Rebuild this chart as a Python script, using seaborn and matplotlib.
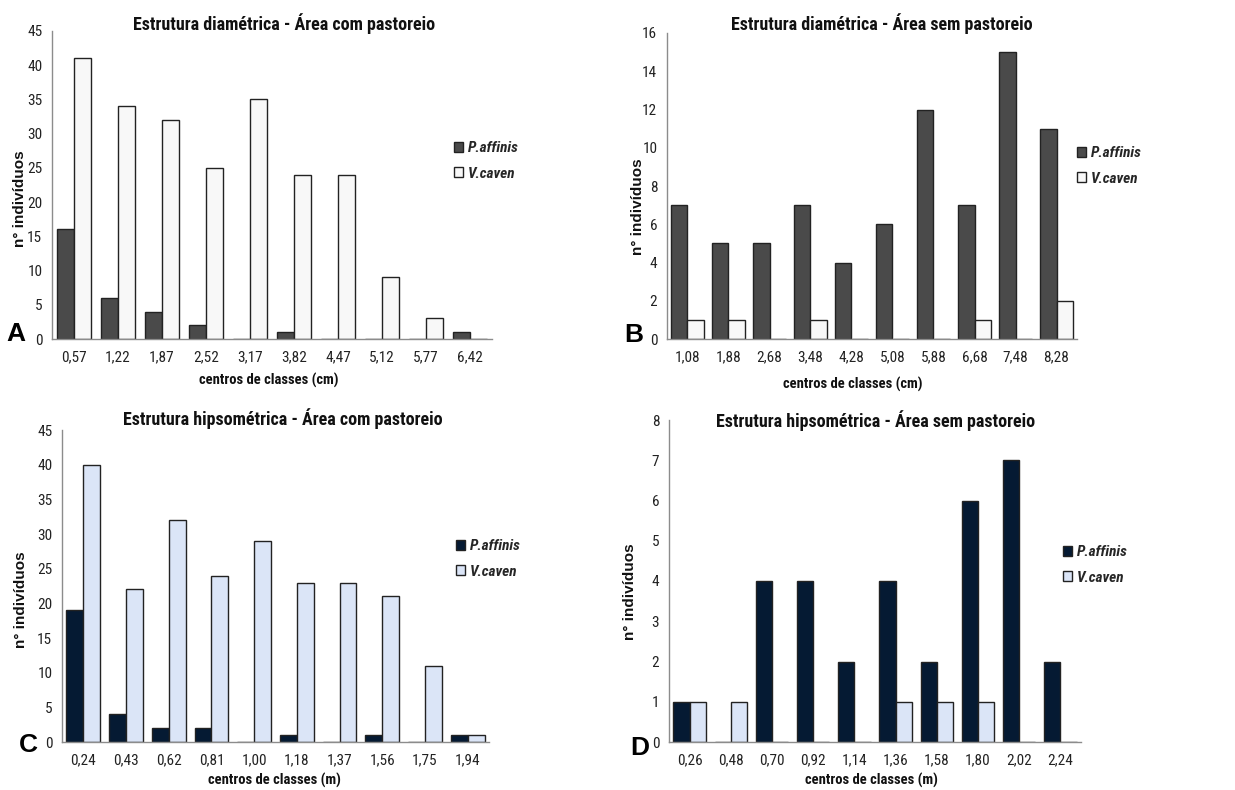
import matplotlib
matplotlib.use("Agg")
import matplotlib.pyplot as plt
from matplotlib import font_manager
from matplotlib.patches import Patch
import seaborn as sns
import pandas as pd

# ---------------- data ----------------
species = ["P.affinis", "V.caven"]

classes_a = ["0,57", "1,22", "1,87", "2,52", "3,17", "3,82", "4,47", "5,12", "5,77", "6,42"]
paff_a = [16, 6, 4, 2, 0, 1, 0, 0, 0, 1]
vcav_a = [41, 34, 32, 25, 35, 24, 24, 9, 3, 0]

classes_b = ["1,08", "1,88", "2,68", "3,48", "4,28", "5,08", "5,88", "6,68", "7,48", "8,28"]
paff_b = [7, 5, 5, 7, 4, 6, 12, 7, 15, 11]
vcav_b = [1, 1, 0, 1, 0, 0, 0, 1, 0, 2]

classes_c = ["0,24", "0,43", "0,62", "0,81", "1,00", "1,18", "1,37", "1,56", "1,75", "1,94"]
paff_c = [19, 4, 2, 2, 0, 1, 0, 1, 0, 1]
vcav_c = [40, 22, 32, 24, 29, 23, 23, 21, 11, 1]

classes_d = ["0,26", "0,48", "0,70", "0,92", "1,14", "1,36", "1,58", "1,80", "2,02", "2,24"]
paff_d = [1, 0, 4, 4, 2, 4, 2, 6, 7, 2]
vcav_d = [1, 1, 0, 0, 0, 1, 1, 1, 0, 0]

titles = ["Estrutura diamétrica - Área com pastoreio",
          "Estrutura diamétrica - Área sem pastoreio",
          "Estrutura hipsométrica - Área com pastoreio",
          "Estrutura hipsométrica - Área sem pastoreio"]
xlabels = ["centros de classes (cm)", "centros de classes (cm)",
           "centros de classes (m)", "centros de classes (m)"]
ylabel = "n° indivíduos"
letters = ["A", "B", "C", "D"]
ymax = [45, 16, 45, 8]
ystep = [5, 2, 5, 1]

# ---------------- style ----------------
sns.set_style("white")

# look for a narrow / condensed sans face (like Arial Narrow in the original)
cond_stretch = ("condensed", "extra-condensed", "ultra-condensed", "semi-condensed")
narrow_name, narrow_stretch = None, "normal"
entries = font_manager.fontManager.ttflist
pref = ["Liberation Sans Narrow", "Arial Narrow", "Roboto Condensed", "Noto Sans",
        "Open Sans Condensed", "Open Sans", "Noto Sans Condensed", "DejaVu Sans"]
found = []
for f in entries:
    st = str(f.stretch)
    if st in cond_stretch or "Narrow" in f.name or "Condensed" in f.name:
        found.append((f.name, st))
for p in pref:
    hits = [h for h in found if h[0] == p]
    if hits:
        hits.sort(key=lambda h: 0 if h[1] == "condensed" else 1)
        narrow_name, narrow_stretch = hits[0]
        break
if narrow_name is None and found:
    narrow_name, narrow_stretch = found[0]

if narrow_name is not None:
    plt.rcParams["font.family"] = [narrow_name, "DejaVu Sans"]
    if narrow_stretch in cond_stretch:
        plt.rcParams["font.stretch"] = narrow_stretch
    fs_title, fs_tick, fs_xl, fs_leg = 13, 11, 10.5, 11
else:
    plt.rcParams["font.family"] = ["Liberation Sans", "DejaVu Sans"]
    fs_title, fs_tick, fs_xl, fs_leg = 11, 9.5, 9.5, 10

W, H = 1235, 790
fig = plt.figure(figsize=(W / 100, H / 100), dpi=100)


def fx(px):
    return px / W


def fy(py):
    return 1 - py / H


gray_pal = {"P.affinis": "#4a4a4a", "V.caven": "#f8f8f8"}
blue_pal = {"P.affinis": "#051a33", "V.caven": "#dbe5f7"}

panels = [
    dict(cls=classes_a, p=paff_a, v=vcav_a, pal=gray_pal,
         box=(52, 31, 492, 339), title=(284, 24), xl=(269, 380), yl=(20, 199),
         letter=(16, 334), leg=(454, 148)),
    dict(cls=classes_b, p=paff_b, v=vcav_b, pal=gray_pal,
         box=(667, 33, 1077, 339), title=(882, 24), xl=(853, 384), yl=(638, 207),
         letter=(634, 335), leg=(1077, 153)),
    dict(cls=classes_c, p=paff_c, v=vcav_c, pal=blue_pal,
         box=(62, 430, 489, 742), title=(283, 419), xl=(274, 780), yl=(21, 600),
         letter=(28, 745), leg=(456, 546)),
    dict(cls=classes_d, p=paff_d, v=vcav_d, pal=blue_pal,
         box=(669, 420, 1081, 742), title=(876, 421), xl=(871, 780), yl=(630, 592),
         letter=(640, 748), leg=(1063, 552)),
]

axis_gray = "#8c8c8c"

for i, pn in enumerate(panels):
    x0, y0, x1, y1 = pn["box"]
    ax = fig.add_axes([fx(x0), fy(y1), fx(x1 - x0), (y1 - y0) / H])
    df = pd.DataFrame({
        "classe": pn["cls"] * 2,
        "n": pn["p"] + pn["v"],
        "especie": [species[0]] * len(pn["cls"]) + [species[1]] * len(pn["cls"]),
    })
    sns.barplot(data=df, x="classe", y="n", hue="especie", order=pn["cls"],
                hue_order=species, palette=pn["pal"], edgecolor="#222222",
                linewidth=1.0, width=0.79, saturation=1, ax=ax, legend=False)
    ax.set_xlim(-0.5, len(pn["cls"]) - 0.5)
    ax.set_ylim(0, ymax[i])
    ax.set_yticks(range(0, ymax[i] + 1, ystep[i]))
    ax.set_xlabel("")
    ax.set_ylabel("")
    for s in ["top", "right"]:
        ax.spines[s].set_visible(False)
    for s in ["left", "bottom"]:
        ax.spines[s].set_color(axis_gray)
        ax.spines[s].set_linewidth(1.0)
    ax.set_xticks([k - 0.5 for k in range(len(pn["cls"]) + 1)], minor=True)
    ax.tick_params(axis="x", which="major", length=0, pad=8, labelsize=fs_tick,
                   labelcolor="#222222")
    ax.tick_params(axis="x", which="minor", length=5, width=1, color=axis_gray, direction="out")
    ax.tick_params(axis="y", which="major", length=4, width=1, color=axis_gray, direction="out",
                   labelsize=fs_tick, labelcolor="#222222", pad=3)

    fig.text(fx(pn["title"][0]), fy(pn["title"][1]), titles[i], ha="center", va="center",
             fontsize=fs_title, fontweight="bold", color="#111111")
    fig.text(fx(pn["xl"][0]), fy(pn["xl"][1]), xlabels[i], ha="center", va="center",
             fontsize=fs_xl, fontweight="bold", color="#111111")
    fig.text(fx(pn["yl"][0]), fy(pn["yl"][1]), ylabel, ha="center", va="center",
             rotation=90, fontsize=11, fontweight="bold", color="#111111",
             family=["Liberation Sans", "DejaVu Sans"], fontstretch="normal")
    fig.text(fx(pn["letter"][0]), fy(pn["letter"][1]), letters[i], ha="center", va="center",
             fontsize=19, fontweight="bold", color="#000000",
             family=["Liberation Sans", "DejaVu Sans"], fontstretch="normal")

    handles = [Patch(facecolor=pn["pal"][s], edgecolor="#222222", linewidth=1.0) for s in species]
    fig.legend(handles, species, loc="center left",
               bbox_to_anchor=(fx(pn["leg"][0]), fy(pn["leg"][1] + 13)),
               frameon=False, handlelength=0.6, handleheight=0.6, handletextpad=0.3,
               labelspacing=0.75, borderaxespad=0, borderpad=0,
               prop=dict(weight="bold", style="italic", size=fs_leg))

fig.savefig("out.png", dpi=100)
